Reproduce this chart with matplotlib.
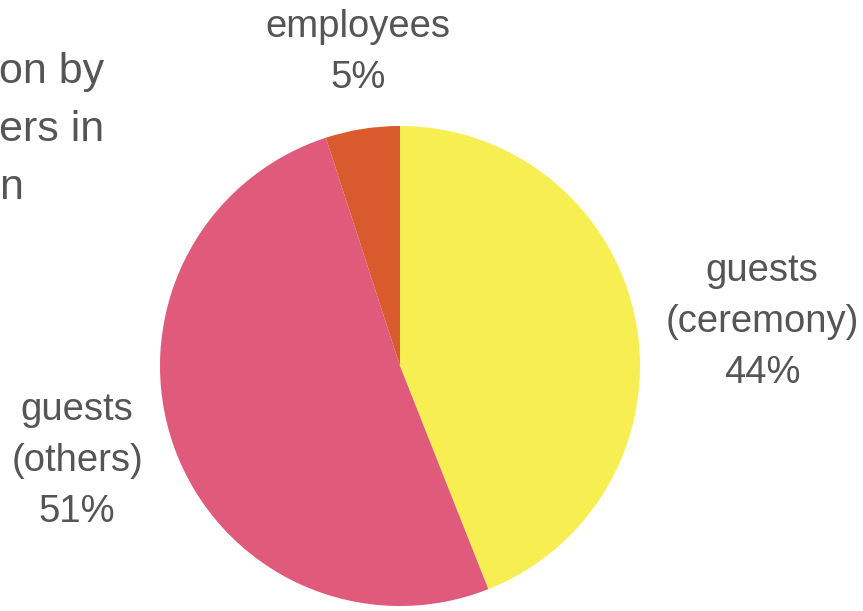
import matplotlib.pyplot as plt

# slices, in drawing order (clockwise from the top)
parts = ['guests\n(ceremony)', 'guests\n(others)', 'employees']
shares = [44, 51, 5]
colours = ['#f7ee52', '#e05a7c', '#d95a2c']

# bits of the cut-off title still visible at the left edge
title_bits = ['on by', 'ers in', 'n']

W, H = 863, 611
fig = plt.figure(figsize=(W / 100, H / 100), dpi=100)
plt.rcParams['font.family'] = ['Liberation Sans', 'DejaVu Sans']

# pie: centre ~ (400, 366) px, radius ~ 240 px
ax = fig.add_axes([160 / W, (H - 606) / H, 480 / W, 480 / H])
ax.pie(shares, colors=colours, startangle=90, counterclock=False,
       wedgeprops=dict(linewidth=0))
ax.set_xlim(-1, 1)
ax.set_ylim(-1, 1)
ax.axis('off')

grey = '#555555'


def put(x, y, s, fs, ha='center'):
    fig.text(x / W, 1 - y / H, s, ha=ha, va='baseline', fontsize=fs, color=grey)


# label anchor points (pixel x centre, first baseline y)
spots = {'guests\n(ceremony)': (762, 281),
         'guests\n(others)': (77, 420),
         'employees': (358, 37)}
for name, v in zip(parts, shares):
    x, y = spots[name]
    lines = name.split('\n') + [f'{v}%']
    for k, ln in enumerate(lines):
        put(x, y + k * 51, ln, 27.5)

for k, t in enumerate(title_bits):
    put(-1, 83 + k * 58, t, 31, ha='left')

fig.savefig('out.png', dpi=100)
